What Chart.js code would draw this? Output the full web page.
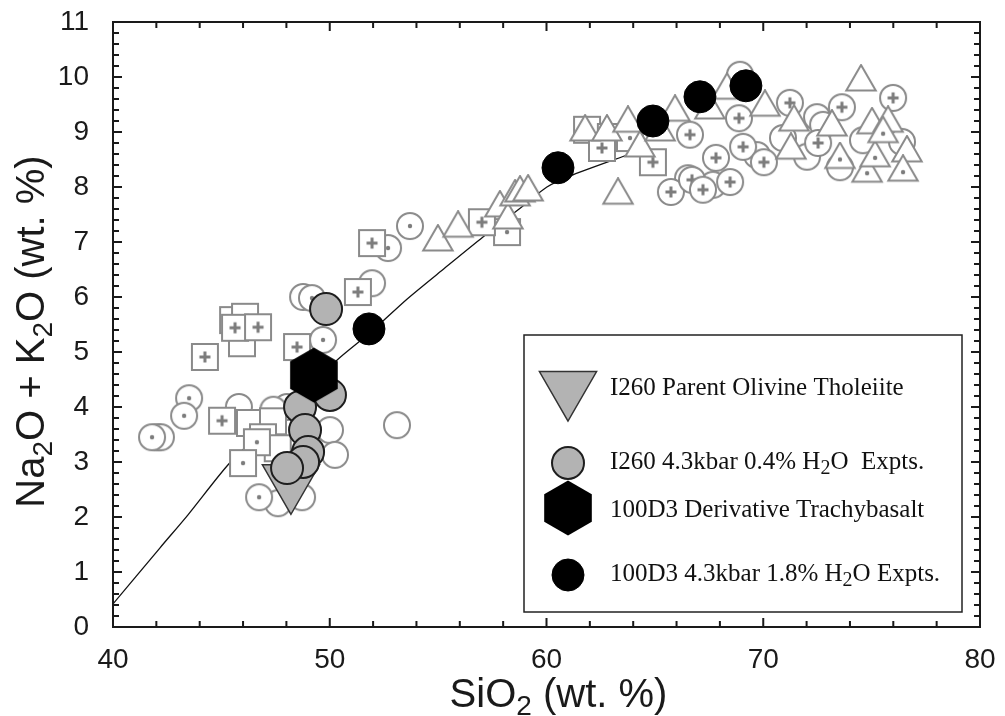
<!DOCTYPE html>
<html>
<head>
<meta charset="utf-8">
<script src="https://cdn.jsdelivr.net/npm/chart.js@4.4.1/dist/chart.umd.min.js"></script>
<style>
  html, body { margin: 0; padding: 0; background: #fff; }
  canvas { display: block; }
</style>
</head>
<body>
<canvas id="tas" width="1005" height="716"></canvas>
<script>
// ---- Axis ticks -------------------------------------------------------
const xTickValues = [40, 50, 60, 70, 80];
const yTickValues = [0, 1, 2, 3, 4, 5, 6, 7, 8, 9, 10, 11];
const xMinorStep = 2;
const yMinorStep = 0.2;

// ---- Axis titles (plain text runs and subscripts) --------------------
const xTitle = ['SiO', { sub: '2' }, ' (wt. %)'];
const yTitle = ['Na', { sub: '2' }, 'O + K', { sub: '2' }, 'O (wt. %)'];

// ---- Background compilation (open grey symbols) ----------------------
const circleDotSi  = [41.80, 43.51, 43.28, 49.18, 49.69, 52.69, 53.70, 46.74];
const circleDotAlk = [3.45, 4.16, 3.84, 5.98, 5.22, 6.89, 7.29, 2.36];

const circlePlusSi  = [65.74, 66.62, 66.71, 67.22, 67.82, 68.47, 68.88, 69.07, 70.03, 71.23, 72.53, 73.63, 75.99];
const circlePlusAlk = [7.91, 8.95, 8.13, 7.95, 8.53, 8.09, 9.25, 8.73, 8.45, 9.53, 8.80, 9.45, 9.62];

const squarePlusSi  = [44.24, 45.63, 46.69, 48.49, 45.03, 51.30, 51.95, 57.02, 62.56, 64.91];
const squarePlusAlk = [4.91, 5.44, 5.45, 5.09, 3.75, 6.09, 6.98, 7.36, 8.71, 8.45];

const squareDotSi  = [46.64, 46.00, 58.18, 63.85];
const squareDotAlk = [3.36, 2.98, 7.18, 8.89];

const squareSi  = [45.54, 46.09, 45.95, 46.32, 47.38, 46.92, 47.60, 61.87, 62.97];
const squareAlk = [5.58, 5.64, 5.16, 3.71, 3.74, 3.45, 3.25, 9.04, 8.91];

const circleSi  = [42.03, 42.21, 48.77, 51.95, 45.81, 48.03, 47.40, 50.01, 50.24, 48.72, 47.61, 53.10,
                   68.93, 70.91, 69.71, 72.48, 72.76, 74.60, 76.40, 73.54, 66.53, 67.68, 72.02];
const circleAlk = [3.45, 3.45, 6.00, 6.25, 4.00, 4.00, 3.95, 3.58, 3.13, 2.36, 2.25, 3.67,
                   10.04, 8.89, 8.58, 9.27, 9.13, 8.85, 8.82, 8.36, 8.16, 8.04, 8.55];

const triangleSi  = [54.99, 55.92, 57.85, 58.22, 58.55, 58.78, 59.15, 61.78, 62.79, 63.76, 63.30, 64.31,
                     65.24, 65.93, 67.54, 68.33, 70.08, 71.42, 71.28, 73.17, 74.51, 75.02, 75.76, 76.63];
const triangleAlk = [7.00, 7.25, 7.62, 7.40, 7.82, 7.89, 7.91, 9.00, 9.00, 9.16, 7.85, 8.71,
                     9.00, 9.36, 9.40, 9.76, 9.45, 9.18, 8.67, 9.09, 9.91, 9.13, 9.16, 8.62];

const triangleDotSi  = [73.54, 74.79, 75.16, 75.53, 76.45];
const triangleDotAlk = [8.50, 8.25, 8.53, 8.97, 8.27];

// ---- Liquid line of descent ------------------------------------------
const trendSi  = [40.00, 42.17, 43.46, 45.31, 46.87, 48.63, 50.33, 51.86, 53.56, 55.32, 57.07, 58.87, 60.02, 61.22, 63.85, 64.40];
const trendAlk = [0.42, 1.44, 2.04, 2.95, 3.55, 4.16, 4.85, 5.35, 5.96, 6.53, 7.09, 7.64, 8.00, 8.22, 8.60, 8.68];

// ---- Highlighted samples and experiments -----------------------------
const parentSi  = [48.21];
const parentAlk = [2.65];

const i260ExptSi  = [49.83, 48.63, 50.01, 48.86, 49.00, 48.77, 48.03];
const i260ExptAlk = [5.78, 4.00, 4.22, 3.58, 3.18, 3.00, 2.89];

const derivSi  = [49.27];
const derivAlk = [4.58];

const d3ExptSi  = [51.81, 60.53, 64.91, 67.08, 69.20];
const d3ExptAlk = [5.42, 8.35, 9.20, 9.64, 9.84];

const legendLabels = [
  ['I260 Parent Olivine Tholeiite'],
  ['I260 4.3kbar 0.4% H', { sub: '2' }, 'O  Expts.'],
  ['100D3 Derivative Trachybasalt'],
  ['100D3 4.3kbar 1.8% H', { sub: '2' }, 'O Expts.']
];

// ---------------------------------------------------------------------
const pts = (xs, ys) => xs.map((v, i) => ({ x: v, y: ys[i] }));

const GREY = '#8a8a8a';
const GREY_IN = '#7c7c7c';
const SANS = '"Liberation Sans", Arial, Helvetica, sans-serif';
const SERIF = '"Liberation Serif", "Times New Roman", serif';

// open grey symbols with optional centre dot or plus
function makeSymbol(shape, inner) {
  const S = 36;
  const c = document.createElement('canvas');
  c.width = S; c.height = S;
  const g = c.getContext('2d');
  g.translate(S / 2, S / 2);
  g.lineWidth = 2;
  g.strokeStyle = GREY;
  g.fillStyle = '#fff';
  g.beginPath();
  if (shape === 'circle') {
    g.arc(0, 0, 13, 0, Math.PI * 2);
  } else if (shape === 'square') {
    g.rect(-13, -13, 26, 26);
  } else {
    const r = 17;
    g.moveTo(0, -r);
    g.lineTo(r * Math.cos(Math.PI / 6), r / 2);
    g.lineTo(-r * Math.cos(Math.PI / 6), r / 2);
    g.closePath();
  }
  g.fill();
  g.stroke();
  if (inner === 'dot') {
    g.fillStyle = GREY_IN;
    g.beginPath();
    g.arc(0, 0, 2.2, 0, Math.PI * 2);
    g.fill();
  } else if (inner === 'plus') {
    g.strokeStyle = GREY_IN;
    g.lineWidth = 3;
    g.beginPath();
    g.moveTo(-5.5, 0); g.lineTo(5.5, 0);
    g.moveTo(0, -5.5); g.lineTo(0, 5.5);
    g.stroke();
  }
  return c;
}

function makeHexagon() {
  const r = 27.5;
  const S = 60;
  const c = document.createElement('canvas');
  c.width = S; c.height = S;
  const g = c.getContext('2d');
  g.translate(S / 2, S / 2);
  g.fillStyle = '#000';
  g.beginPath();
  for (let k = 0; k < 6; k++) {
    const a = -Math.PI / 2 + k * Math.PI / 3;
    const px = r * Math.cos(a), py = r * Math.sin(a);
    if (k === 0) g.moveTo(px, py); else g.lineTo(px, py);
  }
  g.closePath();
  g.fill();
  return c;
}

const sym = {
  circleDot: makeSymbol('circle', 'dot'),
  circlePlus: makeSymbol('circle', 'plus'),
  circle: makeSymbol('circle', null),
  squarePlus: makeSymbol('square', 'plus'),
  squareDot: makeSymbol('square', 'dot'),
  square: makeSymbol('square', null),
  triangle: makeSymbol('triangle', null),
  triangleDot: makeSymbol('triangle', 'dot'),
  hexagon: makeHexagon()
};

function bg(label, xs, ys, style, order) {
  return { label, data: pts(xs, ys), pointStyle: style, pointRadius: 14, order };
}

const datasets = [
  {
    label: 'trend', type: 'line', data: pts(trendSi, trendAlk),
    borderColor: '#111', borderWidth: 1.3, pointRadius: 0, tension: 0.25,
    fill: false, order: 100
  },
  bg('circle', circleSi, circleAlk, sym.circle, 60),
  bg('square', squareSi, squareAlk, sym.square, 59),
  bg('circle dot', circleDotSi, circleDotAlk, sym.circleDot, 58),
  bg('square dot', squareDotSi, squareDotAlk, sym.squareDot, 57),
  bg('circle plus', circlePlusSi, circlePlusAlk, sym.circlePlus, 56),
  bg('square plus', squarePlusSi, squarePlusAlk, sym.squarePlus, 55),
  bg('triangle', triangleSi, triangleAlk, sym.triangle, 54),
  bg('triangle dot', triangleDotSi, triangleDotAlk, sym.triangleDot, 53),
  {
    label: 'I260 Parent Olivine Tholeiite', data: pts(parentSi, parentAlk),
    pointStyle: 'triangle', rotation: 180, pointRadius: 33,
    backgroundColor: '#b3b3b3', borderColor: '#333', borderWidth: 1.5, order: 4
  },
  {
    label: 'I260 4.3kbar 0.4% H2O Expts.', data: pts(i260ExptSi, i260ExptAlk),
    pointStyle: 'circle', pointRadius: 16,
    backgroundColor: '#b3b3b3', borderColor: '#1e1e1e', borderWidth: 2, order: 3
  },
  {
    label: '100D3 Derivative Trachybasalt', data: pts(derivSi, derivAlk),
    pointStyle: sym.hexagon, pointRadius: 27, order: 2
  },
  {
    label: '100D3 4.3kbar 1.8% H2O Expts.', data: pts(d3ExptSi, d3ExptAlk),
    pointStyle: 'circle', pointRadius: 16,
    backgroundColor: '#000', borderColor: '#000', borderWidth: 1, order: 1
  }
];

// text with lowered subscript runs; returns total width
function richWidth(ctx, parts, size, family, subScale) {
  let w = 0;
  parts.forEach(p => {
    const s = typeof p === 'string' ? size : Math.round(size * subScale);
    ctx.font = s + 'px ' + family;
    w += ctx.measureText(typeof p === 'string' ? p : p.sub).width;
  });
  return w;
}
function drawRich(ctx, parts, x, y, size, family, subScale, subDrop) {
  let cx = x;
  parts.forEach(p => {
    if (typeof p === 'string') {
      ctx.font = size + 'px ' + family;
      ctx.fillText(p, cx, y);
      cx += ctx.measureText(p).width;
    } else {
      ctx.font = Math.round(size * subScale) + 'px ' + family;
      ctx.fillText(p.sub, cx, y + subDrop);
      cx += ctx.measureText(p.sub).width;
    }
  });
}

// frame with inward major/minor ticks on all four sides, plus axis titles
const framePlugin = {
  id: 'frame',
  afterDatasetsDraw(chart) {
    const { ctx, chartArea: a, scales: { x, y } } = chart;
    ctx.save();
    ctx.strokeStyle = '#1a1a1a';
    ctx.lineWidth = 2;
    ctx.strokeRect(a.left, a.top, a.right - a.left, a.bottom - a.top);
    ctx.beginPath();
    const nx = Math.round((x.max - x.min) / xMinorStep);
    for (let i = 0; i <= nx; i++) {
      const v = x.min + i * xMinorStep;
      const px = x.getPixelForValue(v);
      const len = (v % 10 === 0) ? 9 : 6;
      ctx.moveTo(px, a.bottom); ctx.lineTo(px, a.bottom - len);
      ctx.moveTo(px, a.top); ctx.lineTo(px, a.top + len);
    }
    const ny = Math.round((y.max - y.min) / yMinorStep);
    for (let i = 0; i <= ny; i++) {
      const v = y.min + i * yMinorStep;
      const py = y.getPixelForValue(v);
      const len = (i % 5 === 0) ? 9 : 6;
      ctx.moveTo(a.left, py); ctx.lineTo(a.left + len, py);
      ctx.moveTo(a.right, py); ctx.lineTo(a.right - len, py);
    }
    ctx.stroke();

    // axis titles
    ctx.fillStyle = '#1a1a1a';
    ctx.textBaseline = 'alphabetic';
    ctx.textAlign = 'left';
    const tSize = 40;
    const xw = richWidth(ctx, xTitle, tSize, SANS, 0.7);
    drawRich(ctx, xTitle, (a.left + a.right) / 2 + 12 - xw / 2, 707, tSize, SANS, 0.7, 8);
    const yw = richWidth(ctx, yTitle, tSize, SANS, 0.7);
    ctx.translate(44, (a.top + a.bottom) / 2 + 7);
    ctx.rotate(-Math.PI / 2);
    drawRich(ctx, yTitle, -yw / 2, 0, tSize, SANS, 0.7, 8);
    ctx.restore();
  }
};

// boxed legend inside the plot
const legendPlugin = {
  id: 'boxLegend',
  afterDraw(chart) {
    const { ctx } = chart;
    const box = { l: 524, t: 335, r: 962, b: 612 };
    ctx.save();
    ctx.fillStyle = '#fff';
    ctx.fillRect(box.l, box.t, box.r - box.l, box.b - box.t);
    ctx.strokeStyle = '#222';
    ctx.lineWidth = 1.5;
    ctx.strokeRect(box.l, box.t, box.r - box.l, box.b - box.t);

    const mx = 568;
    const rows = [388, 462, 510, 574];
    const H = Chart.helpers;
    ctx.fillStyle = '#b3b3b3'; ctx.strokeStyle = '#333'; ctx.lineWidth = 1.5;
    H.drawPoint(ctx, { pointStyle: 'triangle', rotation: 180, radius: 33, borderWidth: 1.5 }, mx, rows[0]);
    ctx.fillStyle = '#b3b3b3'; ctx.strokeStyle = '#1e1e1e'; ctx.lineWidth = 2;
    H.drawPoint(ctx, { pointStyle: 'circle', rotation: 0, radius: 16, borderWidth: 2 }, mx, rows[1] + 1);
    ctx.drawImage(sym.hexagon, mx - sym.hexagon.width / 2, rows[2] - 2 - sym.hexagon.height / 2);
    ctx.fillStyle = '#000'; ctx.strokeStyle = '#000'; ctx.lineWidth = 1;
    H.drawPoint(ctx, { pointStyle: 'circle', rotation: 0, radius: 16, borderWidth: 1 }, mx, rows[3] + 1);

    ctx.fillStyle = '#111';
    ctx.textBaseline = 'middle';
    ctx.textAlign = 'left';
    legendLabels.forEach((parts, i) => drawRich(ctx, parts, 610, rows[i], 25, SERIF, 0.78, 7));
    ctx.restore();
  }
};

const tickFont = { family: SANS, size: 28 };

new Chart(document.getElementById('tas'), {
  type: 'scatter',
  data: { datasets },
  options: {
    responsive: false,
    animation: false,
    devicePixelRatio: 1,
    layout: { autoPadding: false, padding: { top: 22, right: 25, left: 0, bottom: 0 } },
    plugins: { legend: { display: false }, tooltip: { enabled: false } },
    scales: {
      x: {
        type: 'linear', min: 40, max: 80,
        afterBuildTicks: s => { s.ticks = xTickValues.map(v => ({ value: v })); },
        afterFit: s => { s.height = 89; s.paddingLeft = 0; s.paddingRight = 0; },
        grid: { display: false, drawTicks: false },
        border: { display: false },
        ticks: { font: tickFont, color: '#1a1a1a', padding: 16, maxRotation: 0 },
        title: { display: false }
      },
      y: {
        type: 'linear', min: 0, max: 11,
        afterBuildTicks: s => { s.ticks = yTickValues.map(v => ({ value: v })); },
        afterFit: s => { s.width = 113; s.paddingTop = 0; s.paddingBottom = 0; },
        grid: { display: false, drawTicks: false },
        border: { display: false },
        ticks: { font: tickFont, color: '#1a1a1a', padding: 24 },
        title: { display: false }
      }
    }
  },
  plugins: [framePlugin, legendPlugin]
});
</script>
</body>
</html>
